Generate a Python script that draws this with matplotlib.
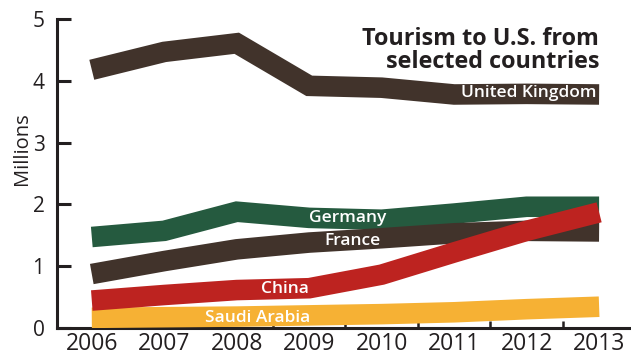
import matplotlib.pyplot as plt
import numpy as np

# data (millions of visitors)
years = [2006, 2007, 2008, 2009, 2010, 2011, 2012, 2013]
uk = [4.18, 4.47, 4.61, 3.92, 3.89, 3.78, 3.79, 3.78]
germany = [1.47, 1.57, 1.88, 1.78, 1.75, 1.85, 1.96, 1.96]
france = [0.87, 1.08, 1.27, 1.38, 1.45, 1.53, 1.57, 1.56]
china = [0.44, 0.53, 0.61, 0.64, 0.86, 1.22, 1.57, 1.87]
saudi = [0.16, 0.17, 0.18, 0.20, 0.22, 0.25, 0.30, 0.34]

brown = '#41332b'
green = '#255a3f'
red = '#bd2320'
yellow = '#f6b134'
ink = '#231f20'

plt.rcParams['font.family'] = ['Open Sans', 'DejaVu Sans']

fig = plt.figure(figsize=(6.31, 3.57), dpi=100)
ax = fig.add_axes([57/631, 1 - 327.7/357, 574/631, 308.5/357])

lw = 14.8
kw = dict(solid_capstyle='butt', solid_joinstyle='miter', zorder=3)
ax.plot(years, germany, color=green, lw=lw, **kw)
ax.plot(years, france, color=brown, lw=lw, **kw)
ax.plot(years, uk, color=brown, lw=lw, **kw)
ax.plot(years, saudi, color=yellow, lw=lw, **kw)
ax.plot(years, china, color=red, lw=lw, **kw)

# labels sitting on the bands
lab = dict(color='white', fontsize=12.5, fontweight='semibold', va='center', zorder=4)
ax.text(2012.96, 3.80, 'United Kingdom', ha='right', **lab)
ax.text(2009.53, 1.77, 'Germany', ha='center', **lab)
ax.text(2009.6, 1.40, 'France', ha='center', **lab)
ax.text(2008.66, 0.62, 'China', ha='center', **lab)
ax.text(2008.29, 0.16, 'Saudi Arabia', ha='center', **lab)

fig.text(599/631, 1 - 27/357, 'Tourism to U.S. from\nselected countries',
         ha='right', va='top', fontsize=16.8, fontweight='bold', color=ink,
         linespacing=0.95, multialignment='right')

ax.set_xlim(2005.52, 2013.44)
ax.set_ylim(0, 5)
ax.set_xticks(years)
ax.set_xticks(np.arange(2006.5, 2013, 1), minor=True)
ax.set_yticks([0, 1, 2, 3, 4, 5])

for s in ['top', 'right']:
    ax.spines[s].set_visible(False)
for s in ['left', 'bottom']:
    ax.spines[s].set_linewidth(2.2)
    ax.spines[s].set_color(ink)
    ax.spines[s].set_zorder(2)

ax.tick_params(axis='y', direction='in', length=10, width=2.2, color=ink,
               labelsize=15, labelcolor=ink, pad=9)
ax.tick_params(axis='x', which='major', length=0, labelsize=16.5,
               labelcolor=ink, pad=3)
ax.tick_params(axis='x', which='minor', direction='in', length=5, width=1.8,
               color=ink)

fig.text(22/631, 1 - 149/357, 'Millions', rotation=90, ha='center',
         va='center', fontsize=14.5, color=ink)

fig.savefig('out.png', dpi=100)
